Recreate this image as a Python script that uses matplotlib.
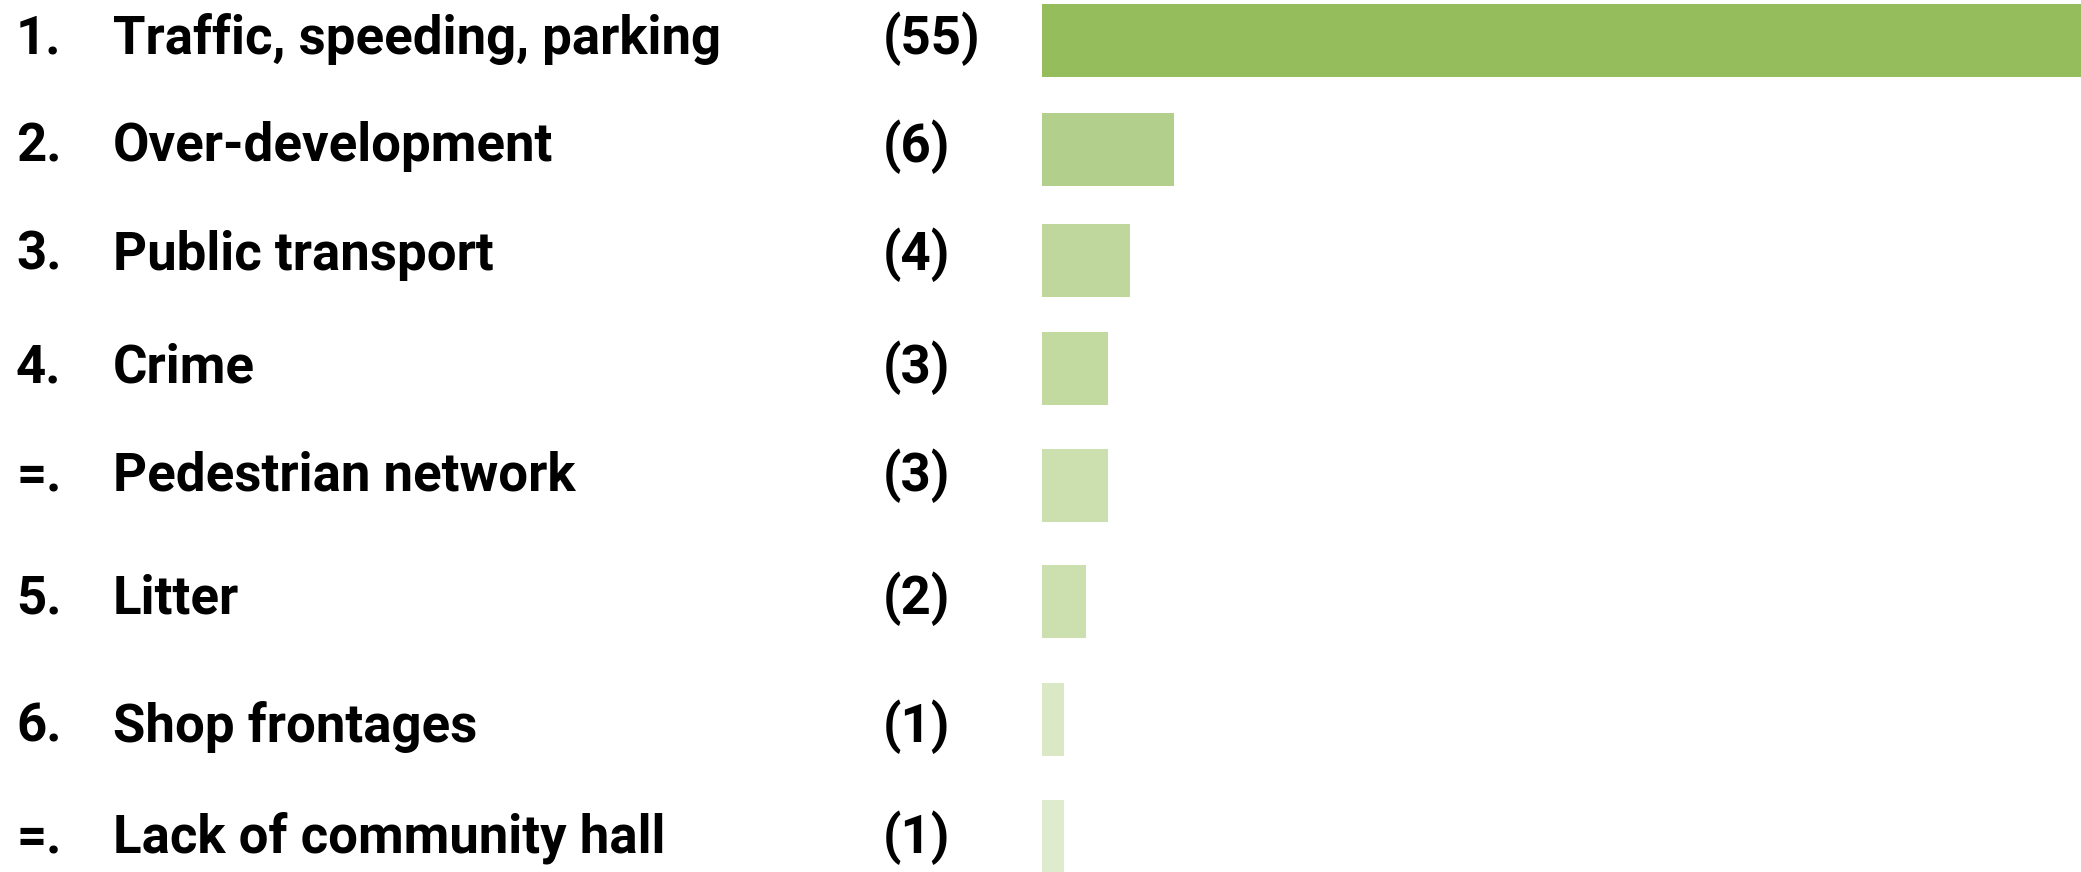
import matplotlib
matplotlib.use("Agg")
import matplotlib.pyplot as plt
import matplotlib.transforms as mtransforms

# ── Data ────────────────────────────────────────────────────────────────────
ranks  = ["1.", "2.", "3.", "4.", "=.", "5.", "6.", "=."]
issues = ["Traffic, speeding, parking", "Over-development", "Public transport",
          "Crime", "Pedestrian network", "Litter", "Shop frontages",
          "Lack of community hall"]
counts = [55, 6, 4, 3, 3, 2, 1, 1]
colors = ["#95BD5C", "#B3CF8C", "#BFD79C", "#C2DA9F",
          "#CBDFAF", "#CBDFAF", "#DAE8C5", "#DFEBCD"]

# ── Layout (pixels) ─────────────────────────────────────────────────────────
W, H = 2081, 872
BAR_X0 = 1042          # left edge of bars
PX_PER_UNIT = 22.0
row_y  = [41, 150, 260, 368, 485, 601, 719, 836]   # bar centres
text_y = [39, 147, 255, 368, 476, 599, 727, 838]   # label centres
BAR_H = 73

fig = plt.figure(figsize=(W / 100, H / 100), dpi=100)
fig.patch.set_facecolor("white")
ax = fig.add_axes([0, 0, 1, 1])
ax.set_xlim(-BAR_X0 / PX_PER_UNIT, (W - BAR_X0) / PX_PER_UNIT)
ax.set_ylim(H, 0)
ax.axis("off")

ax.barh(row_y, counts, height=BAR_H, color=colors, linewidth=0)

trans = mtransforms.blended_transform_factory(fig.transFigure, ax.transData)
font = dict(family="Roboto", fontweight="bold", fontsize=38, color="black",
            va="center", ha="left", transform=trans)
for r, lab, c, y in zip(ranks, issues, counts, text_y):
    ax.text(16 / W, y, r, **font)
    ax.text(113 / W, y, lab, **font)
    ax.text(883 / W, y, f"({c})", **font)

fig.savefig("out.png", dpi=100, facecolor=fig.get_facecolor())
